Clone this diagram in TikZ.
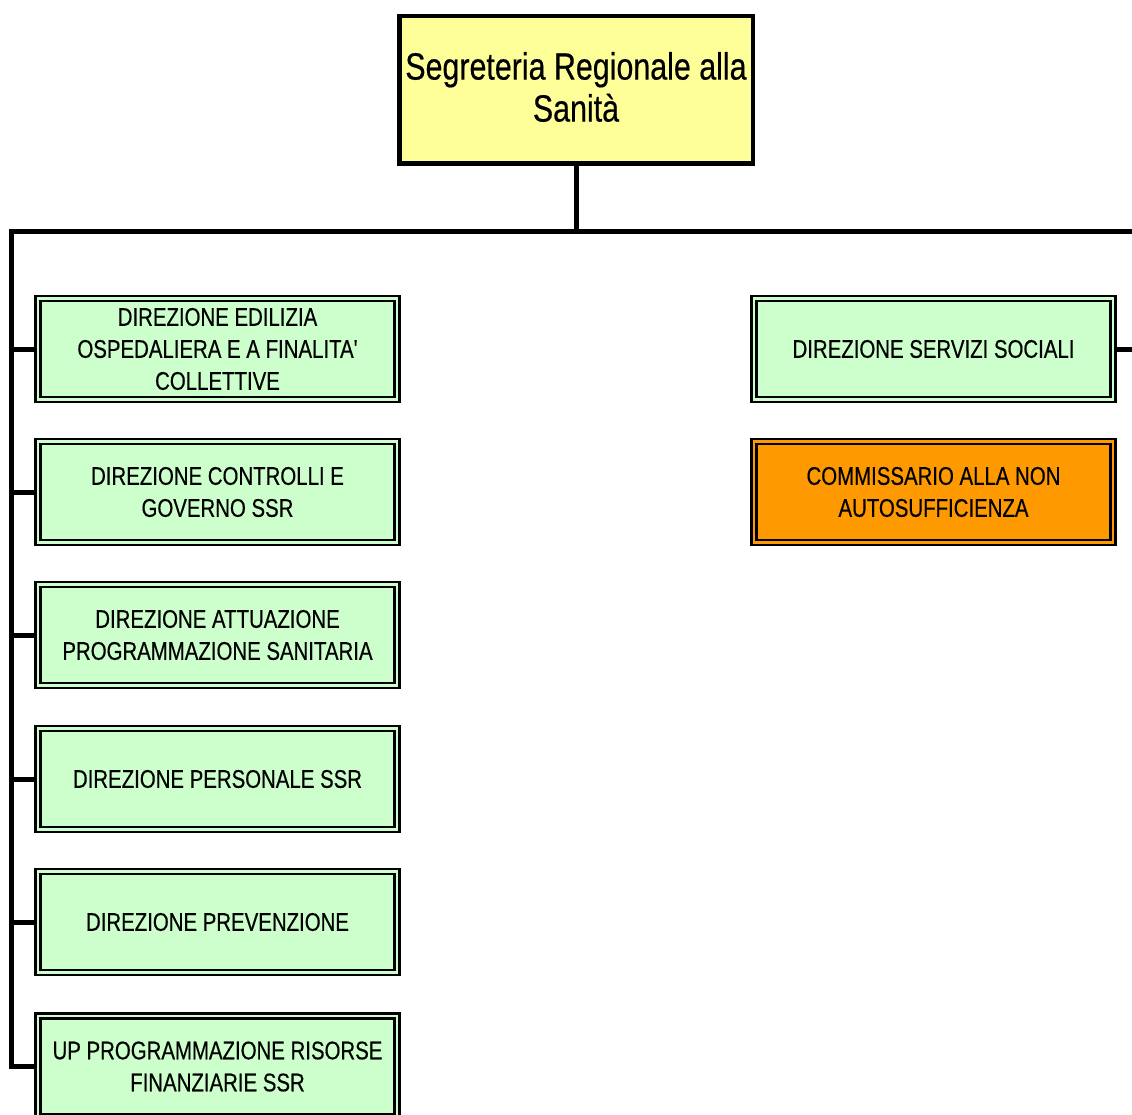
\documentclass[tikz,border=0pt]{standalone}
\usepackage{fontspec}
\setmainfont[FakeStretch=0.8, FakeBold=0.4, Ligatures=TeXOff]{Liberation Sans}
\definecolor{boxgreen}{HTML}{CCFFCC}
\definecolor{boxyellow}{HTML}{FFFF99}
\definecolor{boxorange}{HTML}{FF9900}
\tikzset{
  topbox/.style={draw=black, line width=4.5pt, fill=boxyellow, minimum width=353.5pt, minimum height=147.5pt,
    inner sep=0pt, outer sep=2.25pt},
  toptext/.style={inner sep=0pt, align=center, font=\fontsize{38}{42}\selectfont},
  unitbox/.style={draw=black, line width=2.7pt, double=#1, double distance=2.3pt, fill=#1,
    minimum width=359pt, minimum height=101pt, inner sep=0pt, outer sep=4pt, align=center,
    font=\fontsize{25.5}{32}\selectfont},
  conn/.style={line width=5pt, line cap=rect}
}
\begin{document}
\begin{tikzpicture}[x=1pt, y=-1pt]
\clip (0,0) rectangle (1132,1115);
\fill[white] (0,0) rectangle (1132,1115);
\coordinate (hl) at (11,232);
\coordinate (hr) at (1140,232);
\node[topbox] (top) at (576,90) {};
\node[toptext] (toplabel) at (576,87) {Segreteria Regionale alla\\Sanità};
\node[unitbox=boxgreen] (L1) at (217.5,349) {DIREZIONE EDILIZIA\\OSPEDALIERA E A FINALITA\symbol{"27}\\COLLETTIVE};
\node[unitbox=boxgreen] (L2) at (217.5,492) {DIREZIONE CONTROLLI E\\GOVERNO SSR};
\node[unitbox=boxgreen] (L3) at (217.5,635) {DIREZIONE ATTUAZIONE\\PROGRAMMAZIONE SANITARIA};
\node[unitbox=boxgreen] (L4) at (217.5,779) {DIREZIONE PERSONALE SSR};
\node[unitbox=boxgreen] (L5) at (217.5,922) {DIREZIONE PREVENZIONE};
\node[unitbox=boxgreen] (L6) at (217.5,1066.5) {UP PROGRAMMAZIONE RISORSE\\FINANZIARIE SSR};
\node[unitbox=boxgreen] (R1) at (933.5,349) {DIREZIONE SERVIZI SOCIALI};
\node[unitbox=boxorange] (R2) at (933.5,492) {COMMISSARIO ALLA NON\\AUTOSUFFICIENZA};
\draw[conn] (top.south) -- (top.south |- hl);
\draw[conn] (hr) -- (hl) |- (L6.west);
\foreach \n in {L1,L2,L3,L4,L5} {
  \draw[conn, line cap=butt] (\n.west -| hl) -- (\n.west);
}
\draw[conn, line cap=butt] (R1.east) -- (R1.east -| hr);
\end{tikzpicture}
\end{document}
